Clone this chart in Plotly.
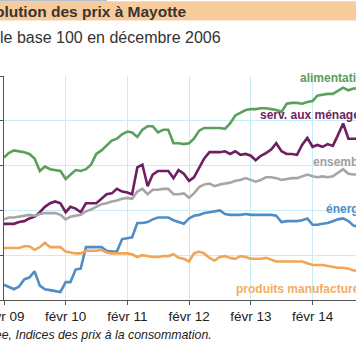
import pandas as pd
import plotly.graph_objects as go

# Monthly dates, Feb 2009 -> Nov 2014
months = pd.date_range("2009-02-01", periods=70, freq="MS")

alimentation = [110.9, 111.4, 111.7, 111.6, 111.5, 111.3, 110.8, 109.4, 109.9, 109.6,
                109.5, 109.4, 108.5, 109.0, 109.5, 109.4, 109.6, 110.1, 111.3, 111.7,
                112.3, 112.8, 113.0, 113.5, 113.8, 113.7, 113.2, 114.0, 114.4, 114.4,
                113.7, 114.0, 114.0, 112.5, 112.5, 112.4, 112.5, 113.0, 113.9, 114.2,
                114.2, 114.2, 114.2, 114.1, 114.7, 115.6, 115.9, 116.2, 116.3, 116.3,
                116.4, 116.4, 116.3, 116.2, 116.0, 116.9, 117.0, 117.0, 116.9, 117.1,
                117.2, 117.8, 117.9, 118.0, 118.0, 118.3, 118.7, 118.4, 118.6, 118.6]

services = [103.5, 103.5, 103.5, 103.7, 103.8, 104.1, 104.3, 104.8, 105.4, 105.8,
            106.0, 105.8, 104.8, 105.4, 105.2, 104.8, 105.8, 105.8, 105.8, 106.3,
            106.8, 106.9, 107.4, 107.1, 107.0, 106.8, 109.8, 110.1, 107.7, 109.0,
            109.4, 109.4, 109.4, 108.6, 109.5, 109.1, 108.3, 108.7, 109.8, 110.8,
            111.5, 111.5, 111.5, 111.6, 111.3, 111.6, 111.2, 111.3, 111.1, 110.6,
            111.1, 111.4, 111.8, 112.5, 111.6, 111.3, 111.3, 111.2, 112.3, 113.1,
            112.1, 112.3, 112.1, 112.4, 112.2, 113.4, 114.7, 113.0, 113.0, 113.0]

ensemble = [104.0, 104.2, 104.2, 104.3, 104.4, 104.5, 104.4, 104.6, 104.7, 104.7,
            104.7, 104.5, 104.0, 104.3, 104.4, 104.5, 104.9, 105.1, 105.4, 105.7,
            105.8, 106.0, 106.1, 106.3, 106.4, 106.3, 107.1, 107.4, 106.8, 107.3,
            107.3, 107.4, 107.4, 106.8, 106.8, 106.9, 106.4, 106.9, 107.6, 107.9,
            108.0, 107.7, 107.9, 108.0, 108.1, 108.3, 108.4, 108.6, 108.4, 108.2,
            108.4, 108.7, 108.7, 108.6, 108.4, 108.5, 108.6, 108.6, 108.8, 109.0,
            108.8, 108.7, 108.8, 108.7, 108.8, 109.2, 109.6, 109.1, 109.0, 109.0]

energie = [96.7, 96.5, 96.2, 96.5, 97.3, 97.5, 98.2, 96.6, 96.2, 96.1,
           96.0, 95.9, 97.0, 97.0, 98.4, 98.5, 100.9, 100.9, 100.9, 100.9,
           100.5, 100.4, 100.4, 101.8, 101.9, 102.0, 103.6, 103.6, 103.7, 104.0,
           104.2, 104.2, 104.2, 103.9, 103.7, 103.5, 104.1, 104.4, 104.5, 104.7,
           104.8, 104.9, 105.0, 104.6, 104.5, 104.5, 104.5, 104.6, 104.5, 104.5,
           104.5, 104.5, 104.5, 104.4, 103.7, 103.8, 103.8, 103.8, 103.9, 104.1,
           103.4, 103.4, 103.5, 103.6, 103.8, 104.0, 104.1, 103.8, 103.3, 103.2]

manufactures = [100.8, 100.8, 100.8, 100.8, 101.0, 101.0, 100.6, 100.9, 101.4, 100.9,
                100.9, 100.9, 100.4, 100.3, 100.2, 100.2, 100.5, 100.5, 100.5, 100.6,
                100.3, 100.2, 100.2, 100.2, 100.2, 100.1, 99.8, 100.0, 99.9, 99.8,
                99.8, 99.9, 99.9, 100.1, 99.7, 99.6, 99.3, 100.2, 100.4, 100.2,
                99.7, 99.4, 99.8, 99.9, 99.7, 99.6, 99.9, 99.8, 99.6, 99.6,
                99.6, 99.7, 99.5, 99.3, 99.3, 99.3, 99.3, 99.3, 99.3, 99.1,
                98.9, 98.9, 98.9, 98.8, 98.7, 98.6, 98.6, 98.5, 98.3, 98.3]

tick_dates = ["2009-02-01", "2010-02-01", "2011-02-01", "2012-02-01",
              "2013-02-01", "2014-02-01", "2015-02-01"]
tick_labels = ["févr 09", "févr 10", "févr 11", "févr 12", "févr 13", "févr 14", "févr 15"]

series = [
    ("alimentation", alimentation, "#5aa05a"),
    ("serv. aux ménages", services, "#6e1f62"),
    ("ensemble", ensemble, "#a6a6a6"),
    ("énergie", energie, "#4f8dc6"),
    ("produits manufacturés", manufactures, "#f2a556"),
]

fig = go.Figure()
for name, vals, col in series:
    fig.add_trace(go.Scatter(x=months, y=vals, mode="lines", name=name,
                             line=dict(color=col, width=2.6), showlegend=False,
                             hoverinfo="skip"))

grid = "#c6eef4"
fig.update_xaxes(range=["2009-02-01", "2014-10-16"], tickvals=tick_dates, ticktext=tick_labels,
                 showgrid=True, gridcolor=grid, gridwidth=1, showline=True, linecolor="#555555",
                 linewidth=1.2, ticks="outside", ticklen=4, tickcolor="#555555",
                 ticklabeloverflow="allow",
                 tickfont=dict(family="Liberation Sans, Arial", size=13.5, color="#222222"),
                 zeroline=False)
fig.update_yaxes(range=[95, 120], dtick=5, showticklabels=False, showgrid=True, gridcolor=grid,
                 gridwidth=1, showline=True, linecolor="#555555", linewidth=1.2,
                 ticks="outside", ticklen=4, tickcolor="#555555", zeroline=False)

W, H = 356, 364
L, R, T, B = 4, 0, 76, 64
pw, ph = W - L - R, H - T - B

def px(x):
    return (x - L) / pw

def py(y):
    return (H - B - y) / ph

shapes = [
    dict(type="rect", xref="paper", yref="paper", x0=px(-2), x1=px(360), y0=py(20.5), y1=py(1.3),
         fillcolor="#f8cb9c", line=dict(width=0), layer="below"),
    dict(type="rect", xref="paper", yref="paper", x0=px(-2), x1=px(107), y0=py(1.3), y1=py(-1),
         fillcolor="#aebfd6", line=dict(width=0), layer="below"),
]

ann = [
    dict(text="<b>Évolution des prix à Mayotte</b>", x=px(-26.5), y=py(11.5), xanchor="left",
         yanchor="middle", font=dict(family="Liberation Sans, Arial", size=15.5, color="#3a3530")),
    dict(text="Échelle base 100 en décembre 2006", x=px(223), y=py(37), xanchor="right",
         yanchor="middle", font=dict(family="Liberation Sans, Arial", size=16, color="#333333")),
    dict(text="<i>Source : Insee, Indices des prix à la consommation.</i>", x=px(213.5), y=py(335),
         xanchor="right", yanchor="middle",
         font=dict(family="Liberation Sans, Arial", size=12.35, color="#222222")),
    dict(text="<b>alimentation</b>", x=px(297.5), y=py(77.5), xanchor="left", yanchor="middle",
         font=dict(family="Liberation Sans, Arial", size=12, color="#5a9e5a")),
    dict(text="<b>serv. aux ménages</b>", x=px(258), y=py(115), xanchor="left", yanchor="middle",
         font=dict(family="Liberation Sans, Arial", size=12, color="#6e1f62")),
    dict(text="<b>ensemble</b>", x=px(310.5), y=py(162), xanchor="left", yanchor="middle",
         font=dict(family="Liberation Sans, Arial", size=12, color="#a0a0a0")),
    dict(text="<b>énergie</b>", x=px(324), y=py(208.5), xanchor="left", yanchor="middle",
         font=dict(family="Liberation Sans, Arial", size=12, color="#4f8dc6")),
    dict(text="<b>produits manufacturés</b>", x=px(234), y=py(288.5), xanchor="left", yanchor="middle",
         font=dict(family="Liberation Sans, Arial", size=12, color="#f2ac66")),
]
for a in ann:
    a.update(xref="paper", yref="paper", showarrow=False)

fig.update_layout(width=W, height=H, margin=dict(l=L, r=R, t=T, b=B, autoexpand=False),
                  paper_bgcolor="white", plot_bgcolor="white", shapes=shapes, annotations=ann)

fig.write_html("out.html", config={"displayModeBar": False, "staticPlot": True},
               post_script="document.body.style.margin='0';document.body.style.padding='0';"
                           "document.documentElement.style.overflow='hidden';")
